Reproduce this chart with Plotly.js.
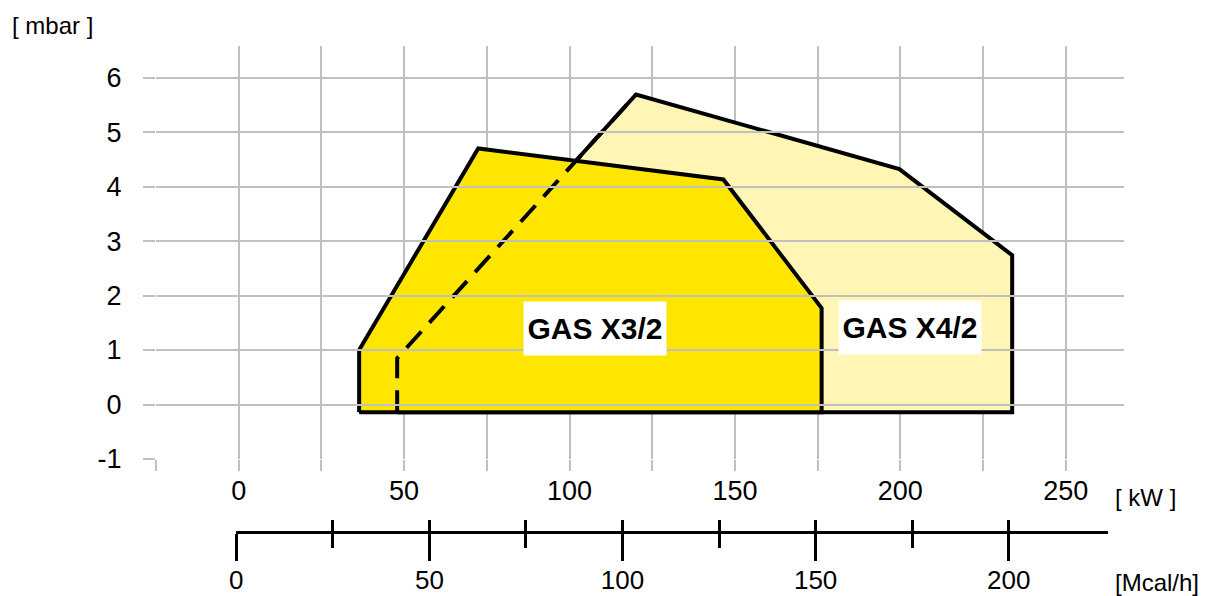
<!DOCTYPE html>
<html>
<head>
<meta charset="utf-8">
<script src="https://cdn.plot.ly/plotly-3.0.1.min.js"></script>
<style>html,body{margin:0;padding:0;background:#fff;}#chart{width:1207px;height:596px;}</style>
</head>
<body>
<div id="chart"></div>
<script>
// ---- data ----
var x3Kw   = [36.4, 36.4, 72.4, 146.5, 176.2, 176.2];
var x3Mbar = [-0.14, 1.0, 4.70, 4.13, 1.77, -0.14];
var x4Kw   = [47.9, 47.9, 120.1, 199.7, 233.8, 233.8];
var x4Mbar = [-0.14, 0.85, 5.69, 4.32, 2.74, -0.14];
var kwTickVals  = [-25, 0, 25, 50, 75, 100, 125, 150, 175, 200, 225, 250];
var kwTickText  = ['', '0', '', '50', '', '100', '', '150', '', '200', '', '250'];
var mbarTickVals = [-1, 0, 1, 2, 3, 4, 5, 6];
var mbarTickText = ['-1', '0', '1', '2', '3', '4', '5', '6'];
var mcalMajor = [0, 50, 100, 150, 200];
var mcalMinor = [25, 75, 125, 175];
var mcalAll   = [0, 25, 50, 75, 100, 125, 150, 175, 200];
var labels = [
  {text: 'GAS X3/2', kw: 107.7, mbar: 1.39},
  {text: 'GAS X4/2', kw: 202.9, mbar: 1.41}
];

var FONT = 'Liberation Sans, Arial, sans-serif';
var GRID = '#c0c0c0';

function closed(a){ return a.concat([a[0]]); }

var traces = [
  {x: closed(x4Kw), y: closed(x4Mbar), type: 'scatter', mode: 'lines', fill: 'toself',
   fillcolor: '#fff5b4', line: {color: '#000', width: 4}, hoverinfo: 'skip'},
  {x: closed(x3Kw), y: closed(x3Mbar), type: 'scatter', mode: 'lines', fill: 'toself',
   fillcolor: '#ffe600', line: {color: '#000', width: 4}, hoverinfo: 'skip'},
  {x: x4Kw.slice(0, 3), y: x4Mbar.slice(0, 3), type: 'scatter', mode: 'lines',
   line: {color: '#000', width: 4, dash: '22px,12px'}, hoverinfo: 'skip'},
  {x: [], y: [], type: 'scatter', xaxis: 'x2', yaxis: 'y'},
  {x: [], y: [], type: 'scatter', xaxis: 'x3', yaxis: 'y'}
];

var annotations = labels.map(function(l){
  return {text: l.text, x: l.kw, y: l.mbar, xref: 'x', yref: 'y', showarrow: false,
    width: 136, height: 47, align: 'center', valign: 'middle',
    bgcolor: '#fff', borderpad: 3, font: {family: FONT, size: 30, color: '#000', weight: 'bold'}};
});
annotations.push(
  {text: '[ mbar ]', xref: 'paper', yref: 'paper', x: -0.1508, y: 1.0432, xanchor: 'left', yanchor: 'middle',
   showarrow: false, font: {family: FONT, size: 24, color: '#000'}},
  {text: '[ kW ]', xref: 'paper', yref: 'paper', x: 0.9886, y: 0.072, xanchor: 'left', yanchor: 'middle',
   showarrow: false, font: {family: FONT, size: 24, color: '#000'}},
  {text: '[Mcal/h]', xref: 'paper', yref: 'paper', x: 0.9886, y: -0.103, xanchor: 'left', yanchor: 'middle',
   showarrow: false, font: {family: FONT, size: 24, color: '#000'}}
);

var layout = {
  width: 1207, height: 596,
  margin: {l: 156, r: 83, t: 46, b: 64, pad: 0},
  paper_bgcolor: '#fff', plot_bgcolor: 'rgba(0,0,0,0)',
  showlegend: false,
  font: {family: FONT, color: '#000'},
  xaxis: {range: [-25, 267.6], domain: [0, 1], anchor: 'y',
    tickmode: 'array', tickvals: kwTickVals, ticktext: kwTickText,
    ticks: 'outside', ticklen: 11, tickwidth: 2, tickcolor: GRID, ticklabelstandoff: -3,
    showgrid: true, gridcolor: GRID, gridwidth: 2, zeroline: false, showline: false,
    tickfont: {family: FONT, size: 27, color: '#000'}},
  yaxis: {range: [-1, 6.58], domain: [0.1502, 1],
    tickmode: 'array', tickvals: mbarTickVals, ticktext: mbarTickText,
    ticks: 'outside', ticklen: 12, tickwidth: 2, tickcolor: GRID, ticklabelstandoff: 16,
    showgrid: true, gridcolor: GRID, gridwidth: 2, zeroline: false, showline: false,
    tickfont: {family: FONT, size: 27, color: '#000'}},
  xaxis2: {range: [0, 225.7], domain: [0.08295, 0.98347], anchor: 'free', position: 0,
    tickmode: 'array', tickvals: mcalMajor,
    ticks: 'outside', ticklen: 27, tickwidth: 3, tickcolor: '#000', ticklabelstandoff: -3,
    minor: {tickmode: 'array', tickvals: mcalMinor, ticks: 'outside', ticklen: 14, tickwidth: 3, tickcolor: '#000', showgrid: false},
    showline: true, linewidth: 3, linecolor: '#000', showgrid: false, zeroline: false,
    tickfont: {family: FONT, size: 26, color: '#000'}},
  xaxis3: {range: [0, 225.7], domain: [0.08295, 0.98347], anchor: 'free', position: 0,
    tickmode: 'array', tickvals: mcalAll,
    ticks: 'inside', ticklen: 12, tickwidth: 3, tickcolor: '#000',
    showticklabels: false, showline: false, showgrid: false, zeroline: false},
  annotations: annotations
};

Plotly.newPlot('chart', traces, layout, {displayModeBar: false, staticPlot: true});
</script>
</body>
</html>
